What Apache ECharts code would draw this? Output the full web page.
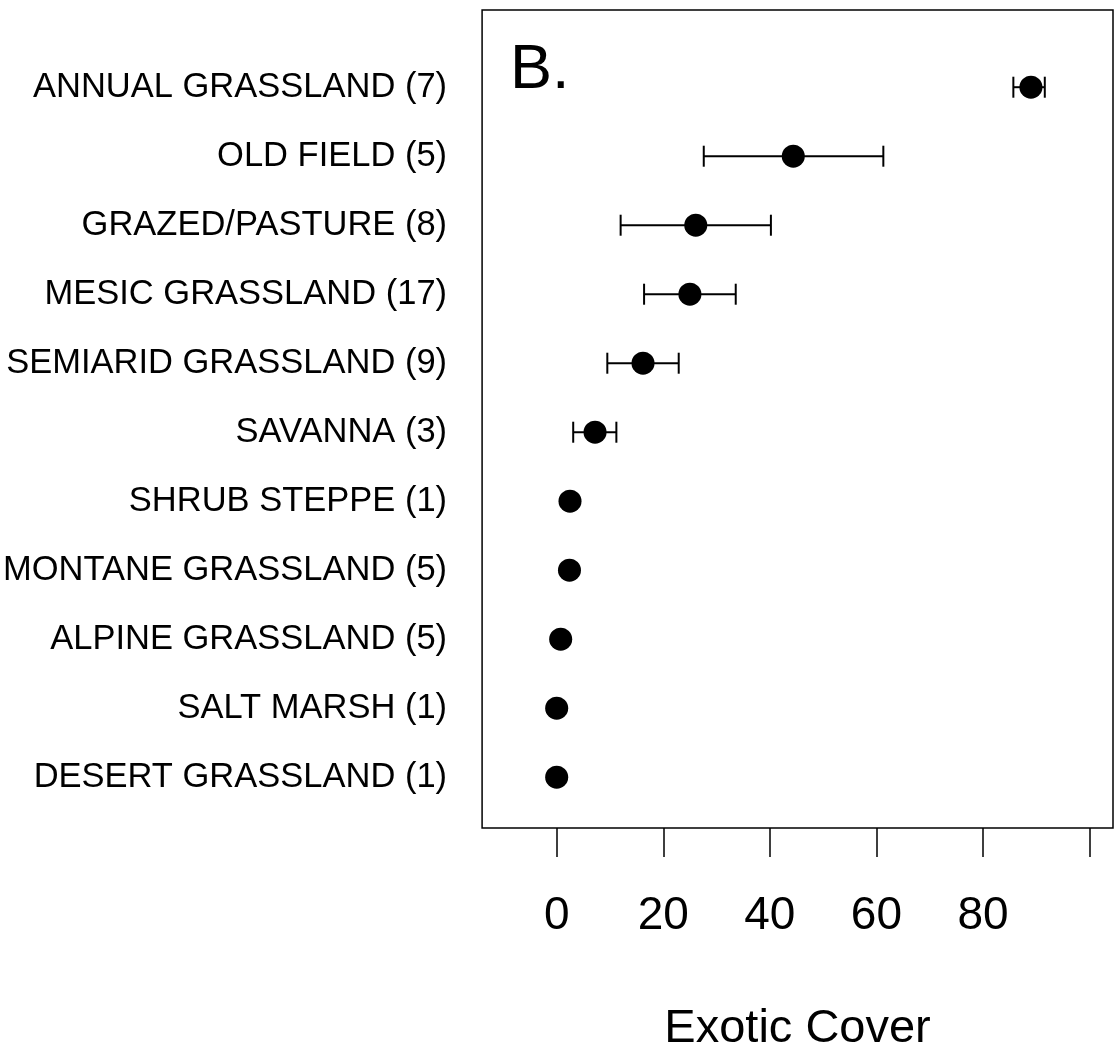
<!DOCTYPE html>
<html>
<head>
<meta charset="utf-8">
<script src="https://cdn.jsdelivr.net/npm/echarts@6/dist/echarts.min.js"></script>
<style>
  html, body { margin: 0; padding: 0; background: #fff; }
  #chart { width: 1119px; height: 1058px; }
</style>
</head>
<body>
<div id="chart"></div>
<script>
// habitats, bottom to top (y = 1..11)
var habitats = [
  'DESERT GRASSLAND (1)', 'SALT MARSH (1)', 'ALPINE GRASSLAND (5)',
  'MONTANE GRASSLAND (5)', 'SHRUB STEPPE (1)', 'SAVANNA (3)',
  'SEMIARID GRASSLAND (9)', 'MESIC GRASSLAND (17)', 'GRAZED/PASTURE (8)',
  'OLD FIELD (5)', 'ANNUAL GRASSLAND (7)'
];
var meanCover  = [0.0, 0.0, 0.75, 2.4, 2.5, 7.2, 16.2, 25.0, 26.1, 44.4, 89.0];
var lowerCover = [null, null, null, null, null, 3.1, 9.5, 16.4, 12.0, 27.6, 85.7];
var upperCover = [null, null, null, null, null, 11.2, 22.9, 33.6, 40.2, 61.3, 91.6];
var xTicks  = [0, 20, 40, 60, 80, 100];
var xLabels = [0, 20, 40, 60, 80];

var font = "'Liberation Sans', Arial, sans-serif";

var points = [];
var bars = [];
for (var i = 0; i < habitats.length; i++) {
  points.push([meanCover[i], i + 1]);
  if (lowerCover[i] !== null) bars.push([lowerCover[i], upperCover[i], i + 1]);
}

var chart = echarts.init(document.getElementById('chart'));
var option = {
  animation: false,
  backgroundColor: '#fff',
  grid: {
    left: 482, top: 10, width: 631, height: 824.5,
    show: true, borderColor: '#000', borderWidth: 1.5, backgroundColor: 'transparent'
  },
  graphic: [{
    type: 'text', left: 510, top: 39,
    style: { text: 'B.', font: '63px ' + font, fill: '#000' }
  }],
  xAxis: {
    type: 'value', min: -14, max: 104.4,
    axisLine: { show: false },
    splitLine: { show: false },
    axisTick: { show: true, length: 29, customValues: xTicks, lineStyle: { color: '#000', width: 1.5 } },
    axisLabel: { customValues: xLabels, margin: 65, fontSize: 46, fontFamily: font, color: '#000' },
    name: 'Exotic Cover', nameLocation: 'middle', nameGap: 178,
    nameTextStyle: { fontSize: 47, fontFamily: font, color: '#000' }
  },
  yAxis: {
    type: 'value', min: 0.264, max: 12.119,
    axisLine: { show: false },
    axisTick: { show: false },
    splitLine: { show: false },
    axisLabel: {
      customValues: [1, 2, 3, 4, 5, 6, 7, 8, 9, 10, 11],
      margin: 35, fontSize: 34.5, fontFamily: font, color: '#000',
      formatter: function (v) { return habitats[Math.round(v) - 1]; }
    }
  },
  series: [
    {
      type: 'custom',
      data: bars,
      renderItem: function (params, api) {
        var a = api.coord([api.value(0), api.value(2)]);
        var b = api.coord([api.value(1), api.value(2)]);
        var h = 10.5;
        var st = { stroke: '#000', lineWidth: 2 };
        return {
          type: 'group',
          children: [
            { type: 'line', shape: { x1: a[0], y1: a[1], x2: b[0], y2: b[1] }, style: st },
            { type: 'line', shape: { x1: a[0], y1: a[1] - h, x2: a[0], y2: a[1] + h }, style: st },
            { type: 'line', shape: { x1: b[0], y1: b[1] - h, x2: b[0], y2: b[1] + h }, style: st }
          ]
        };
      },
      z: 2
    },
    {
      type: 'scatter',
      data: points,
      symbol: 'circle',
      symbolSize: 23,
      itemStyle: { color: '#000', opacity: 1 },
      z: 3
    }
  ]
};
chart.setOption(option);
</script>
</body>
</html>
